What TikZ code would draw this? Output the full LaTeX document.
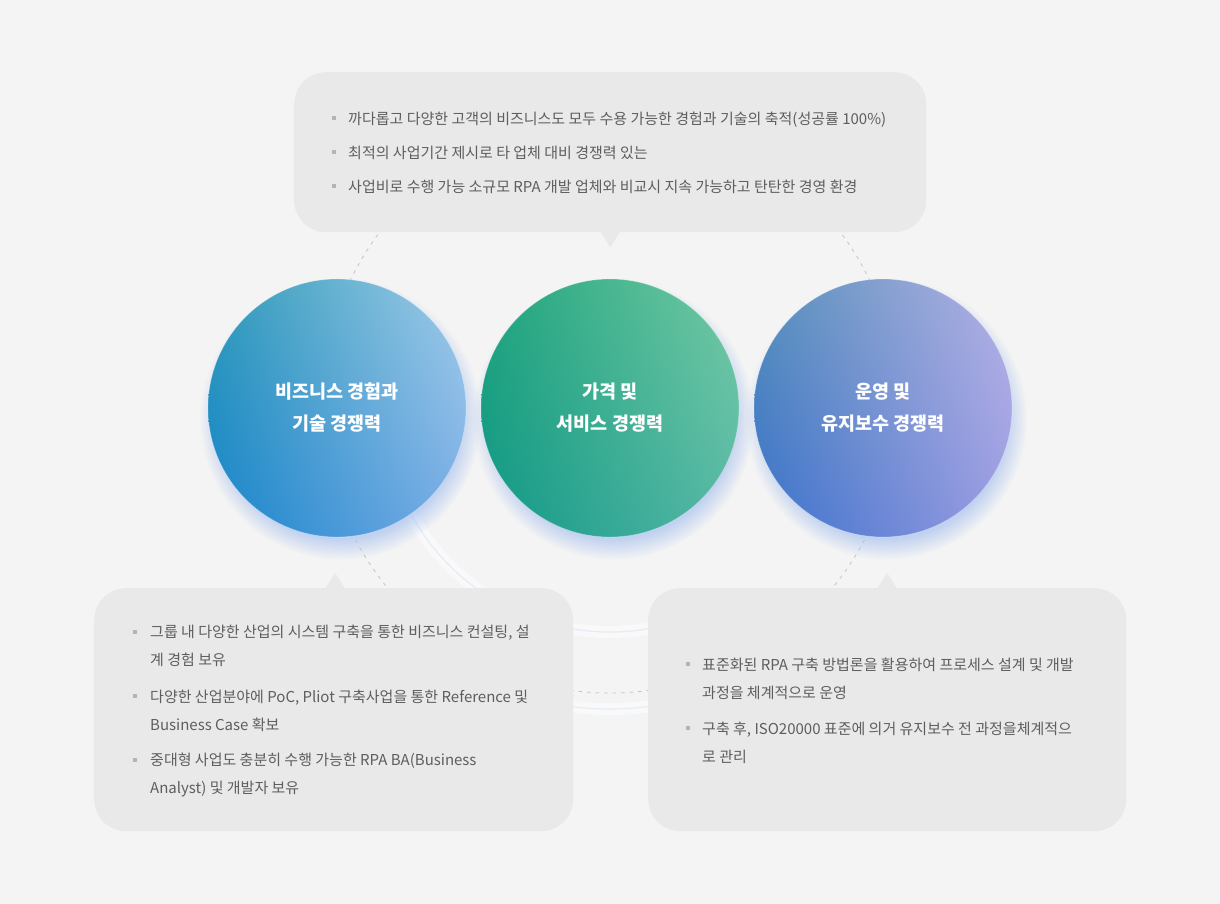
\documentclass[tikz,border=0pt]{standalone}
\usepackage{fontspec}
\setmainfont{Noto Sans CJK KR}
\usetikzlibrary{shadows,fadings,shadings}
\definecolor{bg}{HTML}{F4F4F4}
\definecolor{boxc}{HTML}{E9E9E9}
\definecolor{txt}{HTML}{5E5E5E}
\definecolor{bul}{HTML}{B4B4B4}
\definecolor{ringblue}{HTML}{D6E4F4}
\definecolor{dashc}{HTML}{C4C4C4}
\definecolor{glow}{HTML}{A6C0EE}
\definecolor{aUL}{HTML}{2E9AB8}\definecolor{aUR}{HTML}{A2CCEA}\definecolor{aLL}{HTML}{1784CC}\definecolor{aLR}{HTML}{7AACE6}
\definecolor{bUL}{HTML}{1FA47C}\definecolor{bUR}{HTML}{74CAA4}\definecolor{bLL}{HTML}{119888}\definecolor{bLR}{HTML}{58B8A6}
\definecolor{cUL}{HTML}{5690BA}\definecolor{cUR}{HTML}{B6B2E6}\definecolor{cLL}{HTML}{3A70CC}\definecolor{cLR}{HTML}{9C9CE2}
\begin{document}
\begin{tikzpicture}[x=1pt,y=-1pt,
  bubble/.style={circle, minimum size=258pt, inner sep=0pt, text=white,
    font=\fontsize{18.5}{32}\selectfont\bfseries, align=center,
    draw=white, draw opacity=0.25, line width=0.8pt,
    circular drop shadow={shadow xshift=3pt, shadow yshift=-10pt, shadow scale=1.09, fill=glow, opacity=0.65}},
  panel/.style={fill=boxc, rounded corners=32pt, inner sep=0pt, anchor=north west},
  itemtext/.style={anchor=base west, inner sep=0pt, text=txt, font=\fontsize{15}{15}\selectfont},
  bullet/.style={fill=bul, minimum size=4pt, inner sep=0pt},
  ringglow/.style={white, line width=12pt, opacity=0.5},
  ringline/.style={ringblue, line width=1.2pt, opacity=0.6}]
\useasboundingbox (0,0) rectangle (1220,904);
\fill[bg] (0,0) rectangle (1220,904);

% background rings (visible arcs only)
\coordinate (ctr) at (610,405);
\draw[ringglow] ([shift={(-76:227pt)}]ctr) arc[start angle=-76, end angle=-165, radius=227pt];
\draw[ringline] ([shift={(-76:227pt)}]ctr) arc[start angle=-76, end angle=-165, radius=227pt];
\draw[ringglow] ([shift={(-76:304pt)}]ctr) arc[start angle=-76, end angle=-104, radius=304pt];
\draw[ringline] ([shift={(-76:304pt)}]ctr) arc[start angle=-76, end angle=-104, radius=304pt];
\draw[dashc, line width=0.8pt, dash pattern=on 3.5pt off 5pt] (ctr) circle (288pt);

% panels
\node[panel, minimum width=632pt, minimum height=160pt] (topbox) at (294,72) {};
\fill[boxc] ([xshift=-10pt,yshift=1pt]topbox.south) -- ([xshift=10pt,yshift=1pt]topbox.south) -- ([yshift=-15pt]topbox.south) -- cycle;
\node[panel, minimum width=479pt, minimum height=243pt] (blbox) at (94,588) {};
\fill[boxc] ([xshift=-8.5pt,yshift=-1pt]blbox.north) -- ([xshift=11.5pt,yshift=-1pt]blbox.north) -- ([xshift=1.5pt,yshift=15pt]blbox.north) -- cycle;
\node[panel, minimum width=478pt, minimum height=243pt] (brbox) at (648,588) {};
\fill[boxc] ([xshift=-10pt,yshift=-1pt]brbox.north) -- ([xshift=10pt,yshift=-1pt]brbox.north) -- ([yshift=15pt]brbox.north) -- cycle;

% circles
\node[bubble, upper left=aUL, upper right=aUR, lower left=aLL, lower right=aLR] (c1) at (337,408) {비즈니스 경험과\\기술 경쟁력};
\node[bubble, upper left=bUL, upper right=bUR, lower left=bLL, lower right=bLR] (c2) at (610,408) {가격 및\\서비스 경쟁력};
\node[bubble, upper left=cUL, upper right=cUR, lower left=cLL, lower right=cLR] (c3) at (883,408) {운영 및\\유지보수 경쟁력};

% top panel text
\node[bullet] (tb1) at (334,118) {};
\node[itemtext] (tt1) at (348,124.5) {까다롭고 다양한 고객의 비즈니스도 모두 수용 가능한 경험과 기술의 축적(성공률 100\%)};
\node[bullet] (tb2) at (334,152) {};
\node[itemtext] (tt2) at (348,158.5) {최적의 사업기간 제시로 타 업체 대비 경쟁력 있는};
\node[bullet] (tb3) at (334,186) {};
\node[itemtext] (tt3) at (348,192.5) {사업비로 수행 가능 소규모 RPA 개발 업체와 비교시 지속 가능하고 탄탄한 경영 환경};

% bottom-left panel text
\node[bullet] (lb1) at (135,632) {};
\node[itemtext] (lt1a) at (150,637.5) {그룹 내 다양한 산업의 시스템 구축을 통한 비즈니스 컨설팅, 설};
\node[itemtext] (lt1b) at (150,665.5) {계 경험 보유};
\node[bullet] (lb2) at (135,696) {};
\node[itemtext] (lt2a) at (150,702.5) {다양한 산업분야에 PoC, Pliot 구축사업을 통한 Reference 및};
\node[itemtext] (lt2b) at (150,730.5) {Business Case 확보};
\node[bullet] (lb3) at (135,760) {};
\node[itemtext] (lt3a) at (150,765.5) {중대형 사업도 충분히 수행 가능한 RPA BA(Business};
\node[itemtext] (lt3b) at (150,793.5) {Analyst) 및 개발자 보유};

% bottom-right panel text
\node[bullet] (rb1) at (688,664) {};
\node[itemtext] (rt1a) at (702,670.5) {표준화된 RPA 구축 방법론을 활용하여 프로세스 설계 및 개발};
\node[itemtext] (rt1b) at (702,698.5) {과정을 체계적으로 운영};
\node[bullet] (rb2) at (688,728) {};
\node[itemtext] (rt2a) at (702,734.5) {구축 후, ISO20000 표준에 의거 유지보수 전 과정을체계적으};
\node[itemtext] (rt2b) at (702,762.5) {로 관리};
\end{tikzpicture}
\end{document}
